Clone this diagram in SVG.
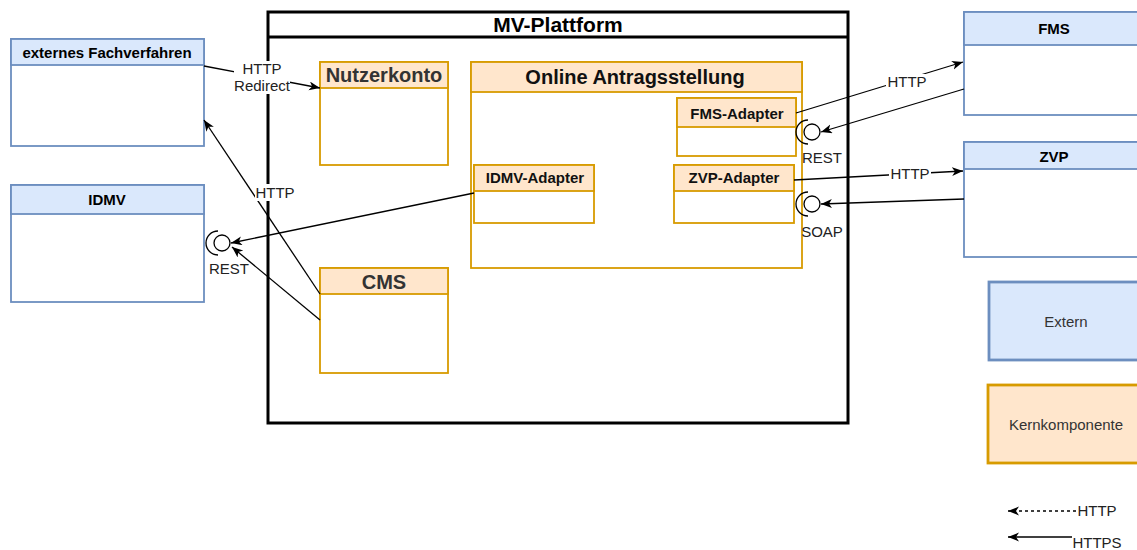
<svg xmlns="http://www.w3.org/2000/svg" width="1137" height="550" viewBox="0 0 1137 550">
  <style>
    text { font-family: "Liberation Sans", Arial, Helvetica, sans-serif; }
    .ext { fill: #dae8fc; stroke: #6c8ebf; stroke-width: 1.8; }
    .core { fill: #ffe6cc; stroke: #d79b00; stroke-width: 1.8; }
    .body { fill: #ffffff; }
    .t-ext { font-size: 15px; font-weight: bold; fill: #000; text-anchor: middle; }
    .t-core { font-size: 20px; font-weight: bold; fill: #111; text-anchor: middle; }
    .t-core-grey { font-size: 20px; font-weight: bold; fill: #333; text-anchor: middle; }
    .t-adapter { font-size: 15px; font-weight: bold; fill: #111; text-anchor: middle; }
    .edge { fill: none; stroke: #000; stroke-width: 1.3; }
    .lbl { font-size: 15px; fill: #222; text-anchor: middle; }
    .lbl-bg { fill: #ffffff; }
    .iface { fill: none; stroke: #000; stroke-width: 1.3; }
    .legend-ext { fill: #dae8fc; stroke: #6c8ebf; stroke-width: 2.8; }
    .legend-core { fill: #ffe6cc; stroke: #d79b00; stroke-width: 2.8; }
    .legend-txt { font-size: 15px; fill: #333; text-anchor: middle; }
  </style>
  <defs>
    <marker id="arrow" markerUnits="userSpaceOnUse" markerWidth="12" markerHeight="10" refX="11" refY="4.5" orient="auto">
      <path d="M0,0 L11,4.5 L0,9 L3,4.5 z" fill="#000"/>
    </marker>
  </defs>

  <rect width="1137" height="550" fill="#ffffff"/>

  <!-- platform container -->
  <g id="mv-plattform">
    <rect x="268" y="12" width="580" height="411" fill="#ffffff" stroke="#000" stroke-width="3"/>
    <line x1="268" y1="37" x2="848" y2="37" stroke="#000" stroke-width="3"/>
    <text x="558" y="32" font-size="21" font-weight="bold" text-anchor="middle" fill="#000">MV-Plattform</text>
  </g>

  <!-- external systems -->
  <g id="externes-fachverfahren">
    <rect class="body" x="11" y="39" width="193" height="107" stroke="#6c8ebf" stroke-width="1.8"/>
    <rect class="ext" x="11" y="39" width="193" height="26"/>
    <text class="t-ext" x="107" y="58">externes Fachverfahren</text>
  </g>
  <g id="idmv">
    <rect class="body" x="11" y="185" width="193" height="117" stroke="#6c8ebf" stroke-width="1.8"/>
    <rect class="ext" x="11" y="185" width="193" height="29"/>
    <text class="t-ext" x="107" y="205">IDMV</text>
  </g>
  <g id="fms">
    <rect class="body" x="964" y="12" width="180" height="103" stroke="#6c8ebf" stroke-width="1.8"/>
    <rect class="ext" x="964" y="12" width="180" height="33"/>
    <text class="t-ext" x="1054" y="34">FMS</text>
  </g>
  <g id="zvp">
    <rect class="body" x="964" y="142" width="180" height="115" stroke="#6c8ebf" stroke-width="1.8"/>
    <rect class="ext" x="964" y="142" width="180" height="27"/>
    <text class="t-ext" x="1054" y="162">ZVP</text>
  </g>

  <!-- core components -->
  <g id="nutzerkonto">
    <rect class="body" x="320" y="62" width="128" height="103" stroke="#d79b00" stroke-width="1.8"/>
    <rect class="core" x="320" y="62" width="128" height="26"/>
    <text class="t-core-grey" x="384" y="82">Nutzerkonto</text>
  </g>
  <g id="cms">
    <rect class="body" x="320" y="268" width="128" height="105" stroke="#d79b00" stroke-width="1.8"/>
    <rect class="core" x="320" y="268" width="128" height="26"/>
    <text class="t-core-grey" x="384" y="289">CMS</text>
  </g>
  <g id="online-antragsstellung">
    <rect class="body" x="471" y="62" width="331" height="206" stroke="#d79b00" stroke-width="1.8"/>
    <rect class="core" x="471" y="62" width="331" height="30"/>
    <text class="t-core" x="635" y="84">Online Antragsstellung</text>
  </g>
  <g id="fms-adapter">
    <rect class="body" x="677" y="98" width="119" height="58" stroke="#d79b00" stroke-width="1.8"/>
    <rect class="core" x="677" y="98" width="119" height="29"/>
    <text class="t-adapter" x="737" y="119">FMS-Adapter</text>
  </g>
  <g id="idmv-adapter">
    <rect class="body" x="474" y="165" width="120" height="58" stroke="#d79b00" stroke-width="1.8"/>
    <rect class="core" x="474" y="165" width="120" height="26"/>
    <text class="t-adapter" x="535" y="183">IDMV-Adapter</text>
  </g>
  <g id="zvp-adapter">
    <rect class="body" x="674" y="165" width="120" height="58" stroke="#d79b00" stroke-width="1.8"/>
    <rect class="core" x="674" y="165" width="120" height="26"/>
    <text class="t-adapter" x="734" y="183">ZVP-Adapter</text>
  </g>

  <!-- provided/required interfaces -->
  <g id="iface-idmv-rest">
    <circle class="iface" cx="222" cy="243" r="8"/>
    <path class="iface" d="M218,231 A12,12 0 0 0 218,255"/>
    <text class="lbl" x="229" y="274">REST</text>
  </g>
  <g id="iface-fms-rest">
    <circle class="iface" cx="812" cy="132" r="8"/>
    <path class="iface" d="M808,120 A12,12 0 0 0 808,144"/>
    <text class="lbl" x="822" y="163">REST</text>
  </g>
  <g id="iface-zvp-soap">
    <circle class="iface" cx="812" cy="204" r="8"/>
    <path class="iface" d="M808,192 A12,12 0 0 0 808,216"/>
    <text class="lbl" x="822" y="237">SOAP</text>
  </g>

  <!-- connectors -->
  <g id="connectors">
    <line class="edge" x1="204" y1="66" x2="320" y2="88" marker-end="url(#arrow)"/>
    <line class="edge" x1="320" y1="294" x2="204" y2="120" marker-end="url(#arrow)"/>
    <line class="edge" x1="474" y1="193" x2="231" y2="243" marker-end="url(#arrow)"/>
    <line class="edge" x1="320" y1="320" x2="232" y2="247" marker-end="url(#arrow)"/>
    <line class="edge" x1="796" y1="113" x2="963" y2="62" marker-end="url(#arrow)"/>
    <line class="edge" x1="964" y1="89" x2="821" y2="132" marker-end="url(#arrow)"/>
    <line class="edge" x1="794" y1="180" x2="963" y2="171" marker-end="url(#arrow)"/>
    <line class="edge" x1="964" y1="199" x2="821" y2="204" marker-end="url(#arrow)"/>

    <rect class="lbl-bg" x="234" y="61" width="56" height="33"/>
    <text class="lbl" x="262" y="74">HTTP</text>
    <text class="lbl" x="262" y="91">Redirect</text>

    <rect class="lbl-bg" x="255" y="184" width="41" height="17"/>
    <text class="lbl" x="275" y="198">HTTP</text>

    <rect class="lbl-bg" x="886" y="74" width="42" height="16"/>
    <text class="lbl" x="907" y="87">HTTP</text>

    <rect class="lbl-bg" x="889" y="166" width="42" height="16"/>
    <text class="lbl" x="910" y="179">HTTP</text>
  </g>

  <!-- legend -->
  <g id="legend-extern">
    <rect class="legend-ext" x="989" y="282" width="154" height="78"/>
    <text class="legend-txt" x="1066" y="327">Extern</text>
  </g>
  <g id="legend-kern">
    <rect class="legend-core" x="988" y="385" width="155" height="78"/>
    <text class="legend-txt" x="1066" y="430">Kernkomponente</text>
  </g>
  <g id="legend-lines">
    <line x1="1076" y1="511" x2="1008" y2="511" stroke="#000" stroke-width="1.3" stroke-dasharray="3,3" marker-end="url(#arrow)"/>
    <text class="lbl" x="1097" y="516">HTTP</text>
    <line x1="1072" y1="537" x2="1008" y2="537" stroke="#000" stroke-width="1.3" marker-end="url(#arrow)"/>
    <text class="lbl" x="1097" y="548">HTTPS</text>
  </g>
</svg>
